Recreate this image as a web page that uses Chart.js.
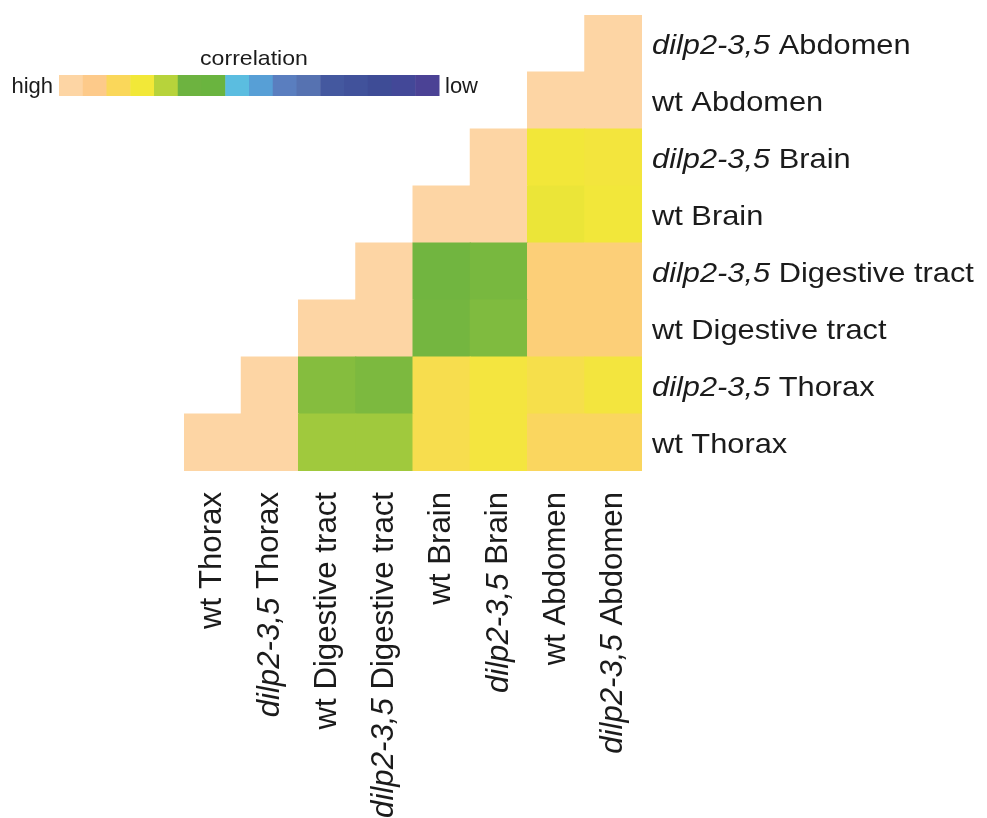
<!DOCTYPE html>
<html>
<head>
<meta charset="utf-8">
<script src="https://cdn.jsdelivr.net/npm/chart.js@4/dist/chart.umd.min.js"></script>
<style>
  html, body { margin: 0; padding: 0; background: #ffffff; }
  canvas { display: block; }
</style>
</head>
<body>
<canvas id="heatmap" width="987" height="818"></canvas>
<script>
// Samples, in column order (left to right) and row order (bottom to top)
const samples = [
  'wt Thorax', 'dilp2-3,5 Thorax',
  'wt Digestive tract', 'dilp2-3,5 Digestive tract',
  'wt Brain', 'dilp2-3,5 Brain',
  'wt Abdomen', 'dilp2-3,5 Abdomen'
];
const mutantTag = 'dilp2-3,5';

// Relative correlation (1 = high, 0 = low) of each row sample with the
// column samples, starting at its own diagonal cell and going right
const wtThorax      = [1.000, 1.000, 0.713, 0.713, 0.843, 0.813, 0.873, 0.873];
const dilpThorax    = [1.000, 0.688, 0.680, 0.843, 0.813, 0.837, 0.812];
const wtDigestive   = [1.000, 1.000, 0.673, 0.683, 0.908, 0.908];
const dilpDigestive = [1.000, 0.670, 0.677, 0.908, 0.908];
const wtBrain       = [1.000, 1.000, 0.792, 0.803];
const dilpBrain     = [1.000, 0.802, 0.810];
const wtAbdomen     = [1.000, 1.000];
const dilpAbdomen   = [1.000];
const rowValues = [wtThorax, dilpThorax, wtDigestive, dilpDigestive,
                   wtBrain, dilpBrain, wtAbdomen, dilpAbdomen];

// Colour scale, from high to low correlation
const scaleColors = [
  '#fdd5a4', '#fdca8a', '#fad75a', '#f2e838', '#b7d33b', '#6db340',
  '#6ab43f', '#5bbde0', '#579fd6', '#5a7ebf', '#5672b1', '#44589f',
  '#41529b', '#3e4c96', '#434898', '#4b4295'
];
const scaleTitle = 'correlation';
const scaleHigh = 'high';
const scaleLow = 'low';

function hexToRgb(h) {
  const n = parseInt(h.slice(1), 16);
  return [(n >> 16) & 255, (n >> 8) & 255, n & 255];
}
function colorFor(v) {
  const n = scaleColors.length;
  const t = Math.max(0, Math.min(1, 1 - v)) * (n - 1);
  const i = Math.min(Math.floor(t), n - 2);
  const f = t - i;
  const a = hexToRgb(scaleColors[i]), b = hexToRgb(scaleColors[i + 1]);
  const c = a.map((x, k) => Math.round(x + (b[k] - x) * f));
  return `rgb(${c[0]},${c[1]},${c[2]})`;
}

// One floating-bar dataset per row; each bar spans one row band
const datasets = rowValues.map((vals, r) => ({
  label: samples[r],
  data: samples.map((_, c) => (c >= r ? [r, r + 1] : null)),
  backgroundColor: samples.map((_, c) => (c >= r ? colorFor(vals[c - r]) : 'rgba(0,0,0,0)')),
  borderWidth: 0,
  grouped: false,
  categoryPercentage: 1,
  barPercentage: 1,
  inflateAmount: 0.5
}));

const FONT = '"Liberation Sans", Arial, Helvetica, sans-serif';
const TEXT_COLOR = '#1b1b1b';

// Sample names are drawn with the genotype tag in italics
function segmentsOf(label) {
  if (label.startsWith(mutantTag)) {
    return [{ text: mutantTag, italic: true }, { text: label.slice(mutantTag.length), italic: false }];
  }
  return [{ text: label, italic: false }];
}
function measureLabel(ctx, label, size) {
  let w = 0;
  for (const s of segmentsOf(label)) {
    ctx.font = `${s.italic ? 'italic ' : ''}${size}px ${FONT}`;
    w += ctx.measureText(s.text).width;
  }
  return w;
}
function drawLabel(ctx, label, x, y, size) {
  let cx = x;
  for (const s of segmentsOf(label)) {
    ctx.font = `${s.italic ? 'italic ' : ''}${size}px ${FONT}`;
    ctx.fillText(s.text, cx, y);
    cx += ctx.measureText(s.text).width;
  }
}

const labelsPlugin = {
  id: 'sampleLabels',
  afterDraw(chart) {
    const ctx = chart.ctx;
    const xs = chart.scales.x, ys = chart.scales.y;
    const area = chart.chartArea;
    ctx.save();
    ctx.fillStyle = TEXT_COLOR;

    // Row names on the right
    ctx.textAlign = 'left';
    ctx.textBaseline = 'alphabetic';
    samples.forEach((name, r) => {
      const y = ys.getPixelForValue(r + 0.5);
      ctx.save();
      ctx.translate(area.right + 10, y + 10.5);
      ctx.scale(1.1, 1);
      drawLabel(ctx, name, 0, 0, 28);
      ctx.restore();
    });

    // Column names below, reading upwards
    const colSize = 31.2;
    ctx.textBaseline = 'middle';
    samples.forEach((name, c) => {
      const x = xs.getPixelForValue(c);
      const w = measureLabel(ctx, name, colSize);
      ctx.save();
      ctx.translate(x, area.bottom + 21);
      ctx.rotate(-Math.PI / 2);
      drawLabel(ctx, name, -w, 0, colSize);
      ctx.restore();
    });

    // Colour scale key
    const kx0 = 59, kx1 = 439, ky = 75, kh = 21;
    const sw = (kx1 - kx0) / scaleColors.length;
    scaleColors.forEach((col, i) => {
      ctx.fillStyle = col;
      ctx.fillRect(kx0 + i * sw, ky, sw + 0.5, kh);
    });
    ctx.fillStyle = TEXT_COLOR;
    ctx.textBaseline = 'alphabetic';
    ctx.save();
    ctx.translate(254, 65);
    ctx.scale(1.1, 1);
    ctx.textAlign = 'center';
    ctx.font = `21px ${FONT}`;
    ctx.fillText(scaleTitle, 0, 0);
    ctx.restore();
    ctx.font = `22px ${FONT}`;
    ctx.textAlign = 'right';
    ctx.fillText(scaleHigh, 53, 93);
    ctx.textAlign = 'left';
    ctx.fillText(scaleLow, 445, 93);
    ctx.restore();
  }
};

new Chart(document.getElementById('heatmap'), {
  type: 'bar',
  data: { labels: samples, datasets },
  options: {
    responsive: false,
    animation: false,
    devicePixelRatio: 1,
    layout: { padding: { left: 184, right: 345, top: 15, bottom: 347 } },
    plugins: { legend: { display: false }, tooltip: { enabled: false } },
    scales: {
      x: { type: 'category', display: false, offset: true, grid: { display: false } },
      y: { type: 'linear', display: false, min: 0, max: samples.length }
    }
  },
  plugins: [labelsPlugin]
});
</script>
</body>
</html>
